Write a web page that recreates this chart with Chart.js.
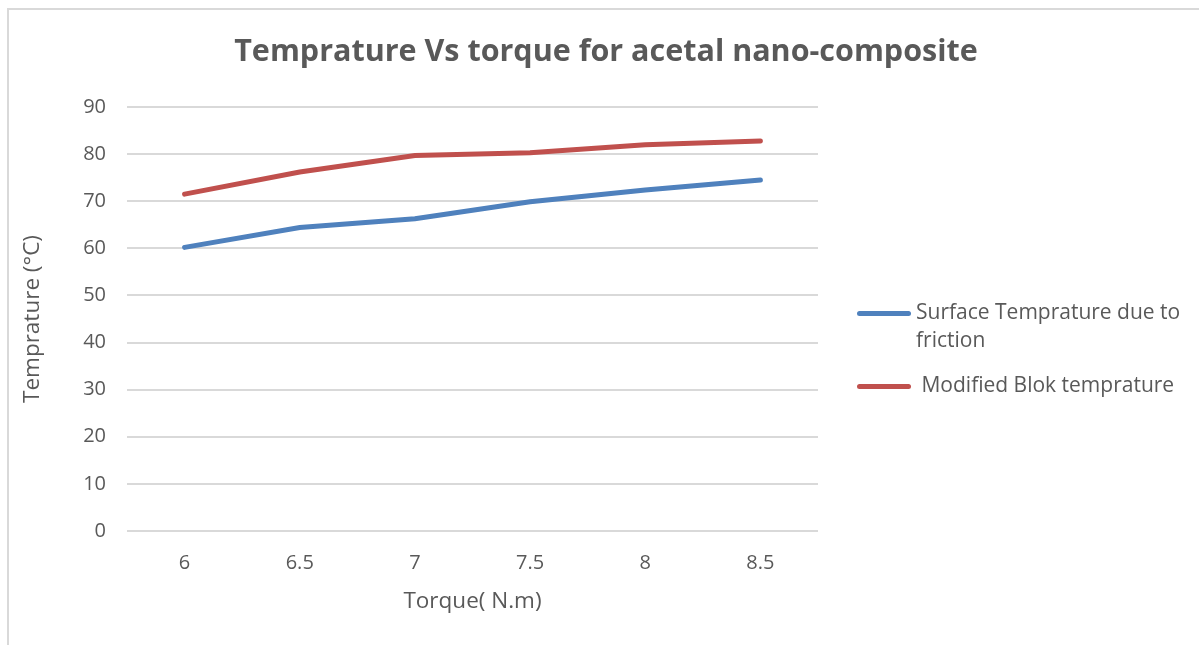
<!DOCTYPE html>
<html>
<head>
<meta charset="utf-8">
<script src="https://cdn.jsdelivr.net/npm/chart.js@4"></script>
<style>
  html, body { margin: 0; padding: 0; background: #fff; }
  body { width: 1199px; height: 645px; position: relative; overflow: hidden; font-family: "Open Sans", sans-serif; }
  .frame { position: absolute; left: 7px; top: 8px; width: 1300px; height: 800px; border: 2px solid #d9d9d9; box-sizing: border-box; }
  #chartBox { position: absolute; left: 0; top: 0; width: 1199px; height: 645px; }
  #chartTitle { position: absolute; left: 0; top: 28px; width: 1212px; text-align: center; color: #595959;
    font-size: 30.5px; font-weight: bold; line-height: 42px; white-space: nowrap; }
  #legend { position: absolute; left: 857px; top: 297px; width: 340px; color: #595959; font-size: 21px; }
  .item { position: relative; padding-left: 59px; line-height: 28px; margin-bottom: 17px; }
  .swatch { position: absolute; left: 0; top: 14px; width: 54px; height: 5px; border-radius: 3px; }
</style>
</head>
<body>
<div class="frame"></div>
<div id="chartBox"><canvas id="tempChart"></canvas></div>
<div id="chartTitle"></div>
<div id="legend"></div>
<script>
// Torque values (N.m)
const torque = ["6", "6.5", "7", "7.5", "8", "8.5"];
// Surface temprature due to friction (°C)
const surfaceTemp = [60.2, 64.4, 66.3, 69.9, 72.4, 74.5];
// Modified Blok temprature (°C)
const blokTemp = [71.5, 76.2, 79.7, 80.3, 82.0, 82.8];
const yTicks = [0, 10, 20, 30, 40, 50, 60, 70, 80, 90];

const titleText = "Temprature Vs torque for acetal nano-composite";
const textColor = "#595959";
const gridColor = "#d9d9d9";

const ctx = document.getElementById("tempChart");
const chart = new Chart(ctx, {
  type: "line",
  data: {
    labels: torque,
    datasets: [
      {
        label: "Surface Temprature due to friction",
        data: surfaceTemp,
        borderColor: "#4f81bd",
        backgroundColor: "#4f81bd",
        borderWidth: 5,
        pointRadius: 0,
        borderCapStyle: "round",
        tension: 0,
      },
      {
        label: " Modified Blok temprature",
        data: blokTemp,
        borderColor: "#c0504d",
        backgroundColor: "#c0504d",
        borderWidth: 5,
        pointRadius: 0,
        borderCapStyle: "round",
        tension: 0,
      },
    ],
  },
  options: {
    responsive: true,
    maintainAspectRatio: false,
    animation: false,
    layout: {
      padding: { left: 10, right: 381, top: 107, bottom: 27 },
    },
    scales: {
      x: {
        offset: true,
        afterFit: (scale) => {
          scale.height = 87;
        },
        grid: { display: false, drawTicks: false },
        border: { display: false },
        ticks: {
          color: textColor,
          padding: 20,
          font: { family: "Open Sans", size: 20 },
        },
        title: {
          display: true,
          text: "Torque( N.m)",
          color: textColor,
          padding: { top: 10, bottom: 3 },
          font: { family: "Open Sans", size: 22.5 },
        },
      },
      y: {
        min: 0,
        max: 90,
        afterBuildTicks: (scale) => {
          scale.ticks = yTicks.map((v) => ({ value: v }));
        },
        afterFit: (scale) => {
          scale.width = 117;
        },
        grid: { color: gridColor, lineWidth: 2, drawTicks: false },
        border: { display: false },
        ticks: {
          color: textColor,
          padding: 21,
          font: { family: "Open Sans", size: 20 },
        },
        title: {
          display: true,
          text: "Temprature (°C)",
          color: textColor,
          padding: { top: 9, bottom: 4 },
          font: { family: "Open Sans", size: 22.5 },
        },
      },
    },
    plugins: {
      legend: { display: false },
      tooltip: { enabled: false },
    },
  },
});

document.getElementById("chartTitle").textContent = titleText;

// HTML legend so the long label can wrap like the original
const legendEl = document.getElementById("legend");
chart.data.datasets.forEach((ds) => {
  const item = document.createElement("div");
  item.className = "item";
  item.innerHTML = `<span class="swatch" style="background:${ds.borderColor}"></span>${ds.label.replace(/^ /, "&nbsp;")}`;
  legendEl.appendChild(item);
});
</script>
</body>
</html>
